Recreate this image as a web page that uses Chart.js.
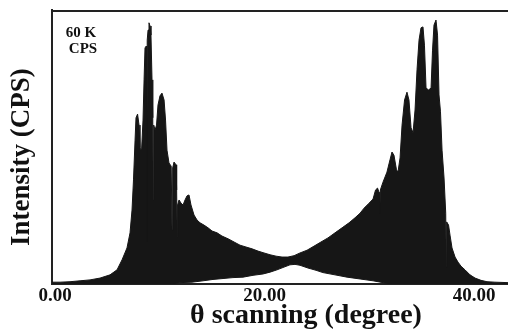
<!DOCTYPE html>
<html>
<head>
<meta charset="utf-8">
<script src="https://cdn.jsdelivr.net/npm/chart.js@4.4.1/dist/chart.umd.min.js"></script>
<style>
  html, body { margin: 0; padding: 0; background: #ffffff; overflow: hidden; }
  #wrap { width: 508px; height: 333px; overflow: hidden; position: relative; background: #fff; }
  #c { display: block; }
</style>
</head>
<body>
<div id="wrap"><canvas id="c" width="560" height="333"></canvas></div>
<script>
// ---- data (theta in degrees, intensity in CPS) ----
const thetaUpper = [
  -0.29, 0.48, 1.43, 2.39, 3.34, 4.30, 5.25, 5.92, 6.40, 6.87,
  7.16, 7.35, 7.49, 7.64, 7.73, 7.88, 8.02, 8.11, 8.26, 8.40,
  8.50, 8.59, 8.71, 8.75, 8.80, 8.88, 8.97, 9.07, 9.16, 9.26,
  9.33, 9.37, 9.42, 9.55, 9.69, 9.83, 10.02, 10.21, 10.41, 10.55,
  10.69, 10.88, 11.09, 11.17, 11.23, 11.36, 11.55, 11.61, 11.66, 11.70,
  11.84, 12.03, 12.22, 12.41, 12.60, 12.79, 12.98, 13.27, 13.56, 13.84,
  14.22, 14.61, 14.99, 15.47, 15.94, 16.52, 17.09, 17.66, 18.23, 18.81,
  19.38, 19.95, 20.53, 21.10, 21.67, 22.24, 22.82, 23.39, 24.06, 24.73,
  25.39, 26.06, 26.73, 27.40, 28.07, 28.64, 29.12, 29.50, 29.98, 30.36,
  30.60, 30.79, 30.93, 31.00, 31.06, 31.31, 31.69, 31.98, 32.17, 32.36,
  32.60, 32.74, 32.94, 33.13, 33.37, 33.60, 33.79, 33.99, 34.18, 34.37,
  34.56, 34.75, 34.94, 35.13, 35.27, 35.42, 35.66, 35.90, 36.04, 36.18,
  36.37, 36.52, 36.66, 36.80, 36.95, 37.14, 37.30, 37.35, 37.39, 37.57,
  37.71, 37.90, 38.19, 38.47, 38.76, 39.14, 39.62, 40.10, 40.67, 41.24,
  42.00, 43.25, 48.21
];
const cpsUpper = [
  400, 400, 500, 700, 900, 1300, 2000, 3100, 5300, 7900,
  11200, 16200, 22800, 31500, 36400, 37200, 34800, 29800, 29300, 35900,
  44700, 51700, 52100, 9200, 53400, 55600, 57200, 56500, 54500, 44700,
  36400, 18400, 34800, 33700, 34800, 39200, 41200, 41800, 40300, 35900,
  29300, 26500, 25800, 11800, 25400, 26700, 26100, 20600, 10300, 17300,
  18400, 17700, 17300, 18400, 19300, 19500, 17300, 15100, 14000, 13400,
  12900, 12300, 11600, 11200, 10500, 9900, 9200, 8500, 8100, 7700,
  7200, 6800, 6400, 6100, 5900, 5900, 6200, 6800, 7400, 8300,
  9200, 10100, 11200, 12300, 13400, 14500, 15500, 16600, 17700, 18600,
  20600, 21000, 20100, 15500, 20600, 22300, 24500, 27200, 28900, 28200,
  25000, 24500, 27600, 34800, 40300, 42000, 40300, 34200, 33100, 38100,
  46900, 53400, 56100, 56300, 52300, 42900, 42500, 42900, 51200, 56700,
  57800, 54500, 41400, 37700, 29300, 23200, 15500, 3700, 13600, 12900,
  10700, 7900, 5900, 4800, 3900, 3100, 2000, 1300, 800, 500,
  400, 300, 300
];
const thetaLower = [
  -0.29, 10.98, 11.93, 13.08, 14.13, 15.08, 16.04, 16.99, 17.95, 18.90,
  19.86, 20.53, 21.19, 21.86, 22.43, 22.91, 23.39, 24.15, 24.92, 25.58,
  26.73, 27.88, 29.12, 30.36, 31.31, 32.17, 48.21
];
const cpsLower = [
  0, 0, 300, 400, 700, 1000, 1200, 1400, 1500, 1900,
  2200, 2600, 3100, 3700, 4200, 4300, 4100, 3500, 3000, 2500,
  2000, 1500, 1100, 700, 300, 0, 0
];
const xTickValues = [0, 20, 40];
const scaleNote = ['60 K', 'CPS'];

const upperPts = thetaUpper.map((t, i) => ({ x: t, y: cpsUpper[i] }));
const lowerPts = thetaLower.map((t, i) => ({ x: t, y: cpsLower[i] }));

Chart.defaults.font.family = "'Liberation Serif', 'Times New Roman', serif";
Chart.defaults.color = '#111';

const noteAndFrame = {
  id: 'noteAndFrame',
  afterDatasetsDraw(chart) {
    const { ctx, chartArea } = chart;
    ctx.save();
    // top frame line
    ctx.strokeStyle = '#222';
    ctx.lineWidth = 2;
    ctx.beginPath();
    ctx.moveTo(chartArea.left, chartArea.top + 1);
    ctx.lineTo(chartArea.right, chartArea.top + 1);
    ctx.stroke();
    // scale note
    ctx.fillStyle = '#111';
    ctx.font = "bold 15px 'Liberation Serif', serif";
    ctx.textAlign = 'center';
    ctx.textBaseline = 'alphabetic';
    ctx.fillText(scaleNote[0], 81, 37);
    ctx.fillText(scaleNote[1], 83, 53);
    ctx.restore();
  }
};

new Chart(document.getElementById('c'), {
  type: 'line',
  data: {
    datasets: [
      {
        label: 'upper',
        data: upperPts,
        borderColor: '#161616',
        backgroundColor: '#161616',
        borderWidth: 1,
        pointRadius: 0,
        tension: 0,
        fill: '+1'
      },
      {
        label: 'lower',
        data: lowerPts,
        borderColor: '#161616',
        backgroundColor: '#161616',
        borderWidth: 1,
        pointRadius: 0,
        tension: 0,
        fill: false
      }
    ]
  },
  options: {
    responsive: false,
    maintainAspectRatio: false,
    animation: false,
    devicePixelRatio: 1,
    layout: { padding: { left: 0, top: 10, right: 0, bottom: 0 } },
    plugins: { legend: { display: false }, tooltip: { enabled: false } },
    scales: {
      x: {
        type: 'linear',
        min: -0.29,
        max: 48.21,
        afterFit(s) { s.height = 49; },
        afterBuildTicks(s) { s.ticks = xTickValues.map(v => ({ value: v })); },
        grid: { display: false, drawTicks: false },
        border: { display: true, color: '#222', width: 2 },
        ticks: {
          padding: 1,
          maxRotation: 0,
          autoSkip: false,
          color: '#111',
          font: { size: 19, weight: 'bold' },
          callback: v => Number(v).toFixed(2)
        },
        title: {
          display: true,
          text: 'θ scanning (degree)',
          color: '#111',
          font: { size: 28, weight: 'bold' },
          padding: { top: 0, bottom: 0 }
        }
      },
      y: {
        min: 0,
        max: 60000,
        afterFit(s) { s.width = 52; },
        grid: { display: false, drawTicks: false },
        border: { display: true, color: '#222', width: 2 },
        ticks: { display: false },
        title: {
          display: true,
          text: 'Intensity (CPS)   ',
          color: '#111',
          font: { size: 27, weight: 'bold' },
          padding: { top: 6, bottom: 0 }
        }
      }
    }
  },
  plugins: [noteAndFrame]
});
</script>
</body>
</html>
